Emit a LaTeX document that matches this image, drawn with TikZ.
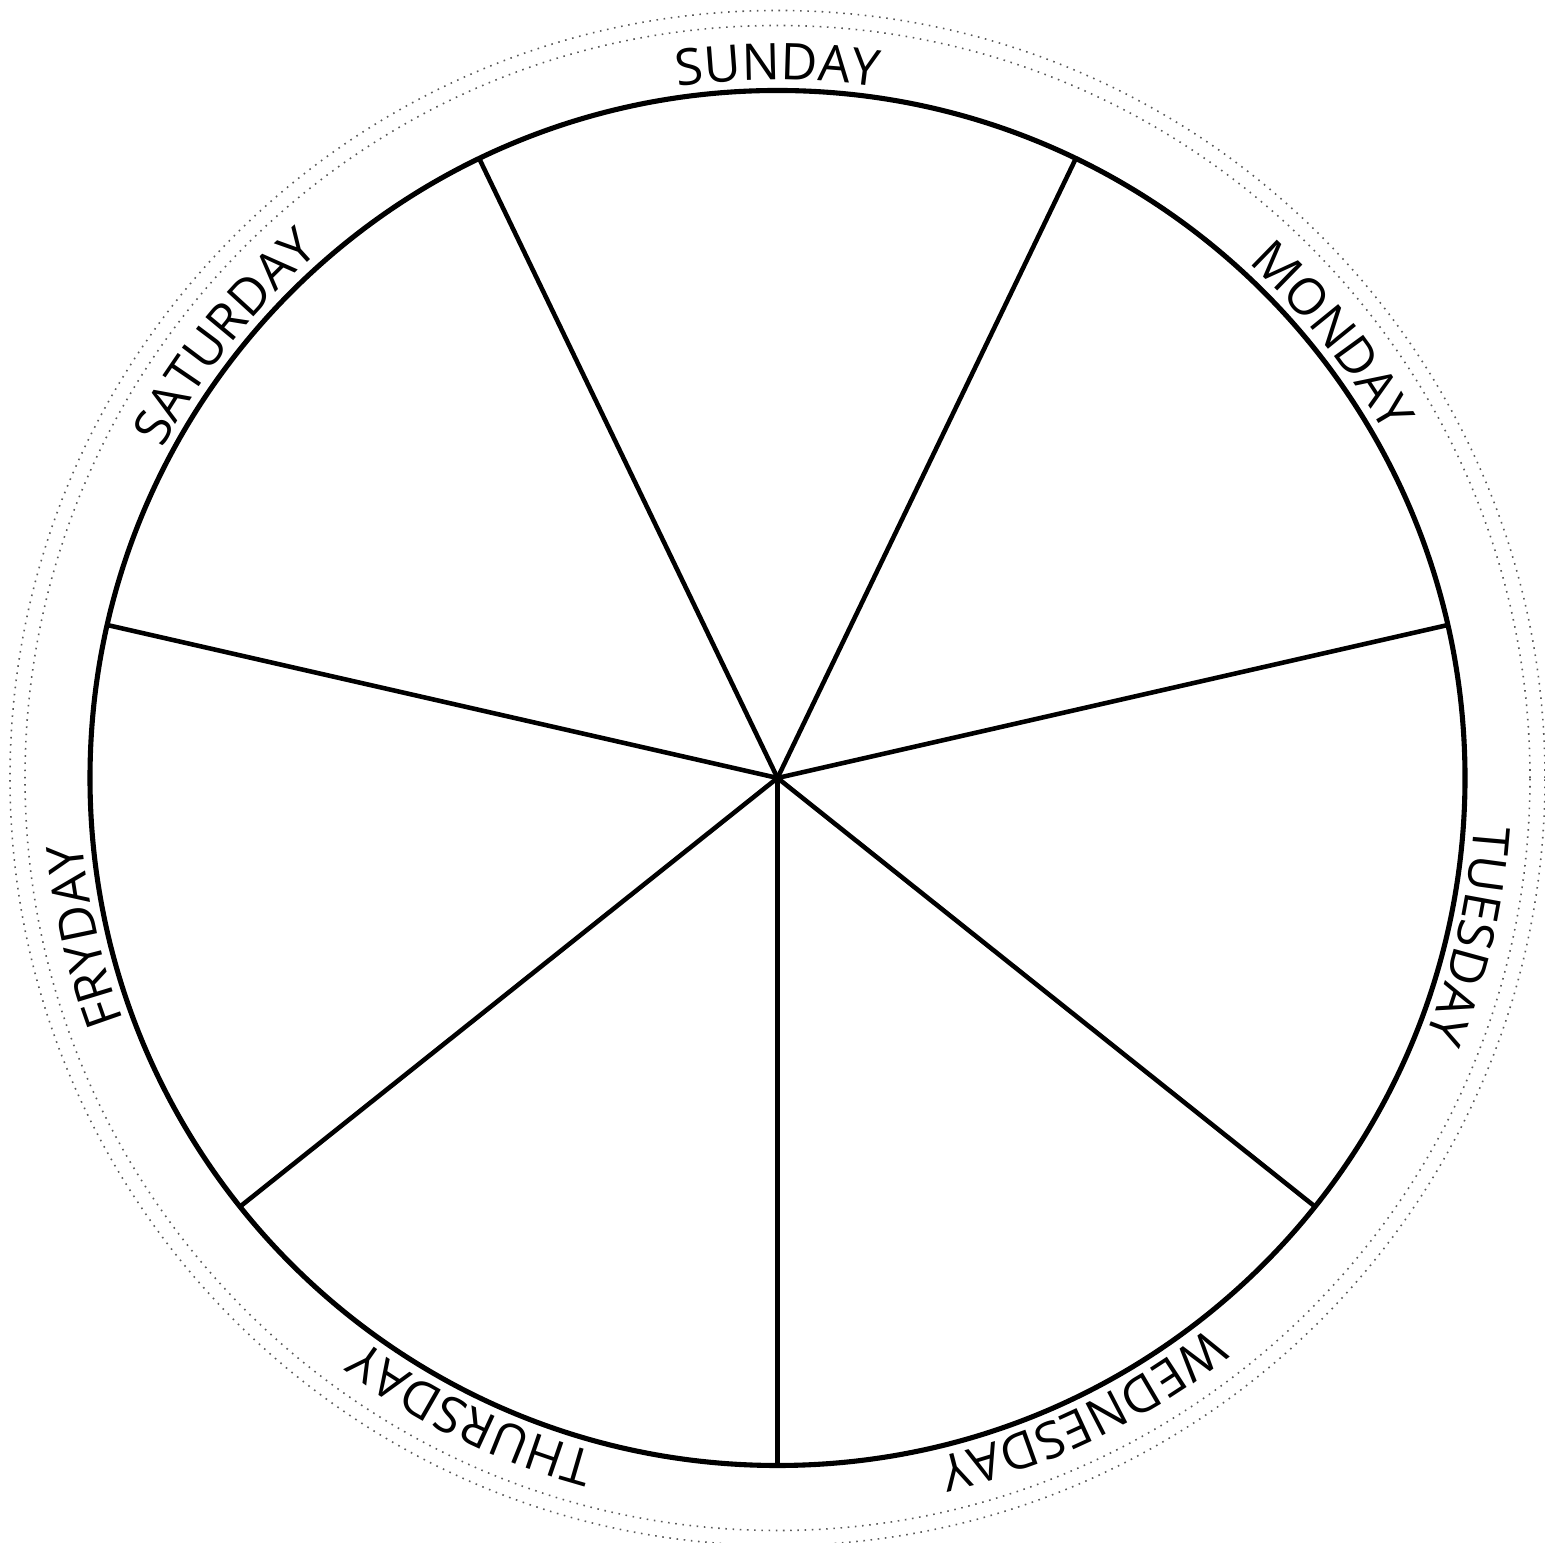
\documentclass[tikz,border=0pt]{standalone}
\usepackage{fontspec}
\setmainfont{Open Sans}
\newfontfamily\daysfont{Open Sans}
\usetikzlibrary{decorations.text,calc}
\tikzset{
  wheel/.style={line width=1.45pt, black},
  spoke/.style={line width=1.3pt, black},
  ring/.style={line width=0.45pt, black!65, dash pattern=on 0.45pt off 1.6pt},
  daylabel/.style={decorate, decoration={text along path, text align=center,
     text={|\daysfont\fontsize{14.4}{16}\selectfont|#1}}}
}
\begin{document}
\begin{tikzpicture}
\useasboundingbox (0,0) rectangle (15.45,15.42);
\coordinate (c) at (7.775,7.64);
% outer dotted rings
\draw[ring] (c) circle[radius=7.675];
\draw[ring] (c) circle[radius=7.525];
% main circle
\draw[wheel] (c) circle[radius=6.875];
% spoke ends
\foreach \i in {0,...,6} {
  \coordinate (e\i) at ($(c)+({-90+\i*360/7}:6.875)$);
}
\foreach \i in {0,...,6} {
  \draw[spoke] (c) -- (e\i);
}
% day labels (clockwise arcs, text outside)
\foreach \ang/\name in {90/SUNDAY, 38.571/MONDAY, -12.857/TUESDAY, -64.286/WEDNESDAY,
                       -115.714/THURSDAY, -167.143/FRYDAY, 141.429/SATURDAY} {
  \path[daylabel=\name] (c) ++({\ang+40}:6.98) arc[start angle={\ang+40}, end angle={\ang-40}, radius=6.98];
}
\end{tikzpicture}
\end{document}
